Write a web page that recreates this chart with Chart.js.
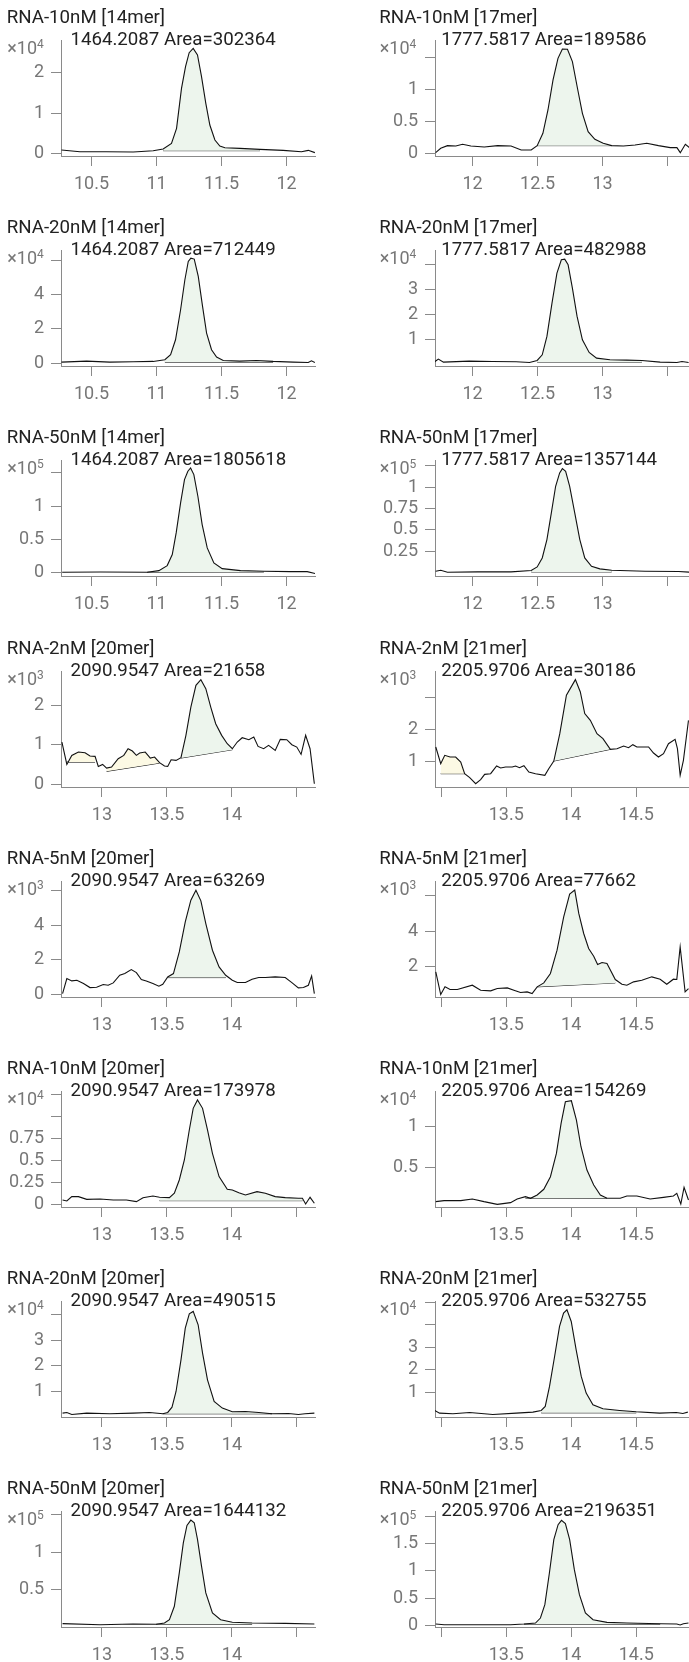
<!DOCTYPE html>
<html>
<head>
<meta charset="utf-8">
<title>RNA XIC panels</title>
<script src="https://cdn.jsdelivr.net/npm/chart.js@4.4.1/dist/chart.umd.min.js"></script>
<style>
  html, body { margin: 0; padding: 0; background: #fff; overflow: hidden; }
  #sheet { position: relative; width: 689px; height: 1662px; overflow: hidden; font-family: Roboto, sans-serif; }
  .panel { position: absolute; width: 374px; height: 210px; }
  .panel canvas { position: absolute; left: 0; top: 0; }
  .ttl { position: absolute; font-size: 18.7px; line-height: 20px; color: #222; white-space: nowrap; }
  .exp { position: absolute; font-size: 18px; line-height: 18px; color: #777; white-space: nowrap; }
  .exp sup { font-size: 12px; vertical-align: 6px; line-height: 0; }
</style>
</head>
<body>
<div id="sheet"></div>
<script>
// ---- panel labels (reading order: left column, right column, row by row)
const titles = [
  'RNA-10nM [14mer]', 'RNA-10nM [17mer]', 'RNA-20nM [14mer]', 'RNA-20nM [17mer]',
  'RNA-50nM [14mer]', 'RNA-50nM [17mer]', 'RNA-2nM [20mer]', 'RNA-2nM [21mer]',
  'RNA-5nM [20mer]', 'RNA-5nM [21mer]', 'RNA-10nM [20mer]', 'RNA-10nM [21mer]',
  'RNA-20nM [20mer]', 'RNA-20nM [21mer]', 'RNA-50nM [20mer]', 'RNA-50nM [21mer]'
];
const masses = ['1464.2087', '1777.5817', '1464.2087', '1777.5817', '1464.2087', '1777.5817',
  '2090.9547', '2205.9706', '2090.9547', '2205.9706', '2090.9547', '2205.9706',
  '2090.9547', '2205.9706', '2090.9547', '2205.9706'];
const areas = [302364, 189586, 712449, 482988, 1805618, 1357144, 21658, 30186,
  63269, 77662, 173978, 154269, 490515, 532755, 1644132, 2196351];
const exponents = [4, 4, 4, 4, 5, 5, 3, 3, 3, 3, 4, 4, 4, 4, 5, 5];
const panelMer = [14, 17, 14, 17, 14, 17, 20, 21, 20, 21, 20, 21, 20, 21, 20, 21];

// ---- retention time axes (min)
const rtRange = { 14: [10.265, 12.219], 17: [11.711, 13.665], 20: [12.685, 14.639], 21: [12.952, 14.906] };
const rtTicks = { 14: [10.5, 11, 11.5, 12], 17: [12, 12.5, 13, 13.5], 20: [13, 13.5, 14, 14.5], 21: [13, 13.5, 14, 14.5] };
const rtUnlabelled = { 14: [], 17: [13.5], 20: [14.5], 21: [13] };

// ---- intensity axes (in units of 10^exponent)
const yMins = [-0.066, -0.042, -0.17, -0.075, -0.046, -0.039, -0.066, 0.18, -0.14, 0.31, -0.023, 0.012, -0.008, -0.105, 0, -0.03];
const yMaxs = [2.81, 1.77, 6.62, 4.565, 1.694, 1.316, 2.87, 3.84, 6.55, 6.81, 1.295, 1.44, 4.54, 5.05, 1.55, 2.1];
const yTickValues = [
  [0, 1, 2], [0, 0.5, 1, 1.5], [0, 2, 4, 6], [1, 2, 3, 4], [0, 0.5, 1, 1.5], [0.25, 0.5, 0.75, 1, 1.25],
  [0, 1, 2], [1, 2, 3], [0, 2, 4, 6], [2, 4, 6], [0, 0.25, 0.5, 0.75, 1, 1.25], [0.5, 1],
  [1, 2, 3, 4], [1, 2, 3, 4, 5], [0.5, 1, 1.5], [0, 0.5, 1, 1.5, 2]
];
const yTickUnlabelled = [[], [1.5], [6], [4], [1.5], [1.25], [], [3], [6], [6], [1, 1.25], [], [4], [4, 5], [1.5], [2]];

// ---- traces: retention time / intensity
const mer14_10nM_t = [10.269, 10.410, 10.615, 10.821, 10.974, 11.051, 11.115, 11.154, 11.192, 11.223, 11.251, 11.282, 11.315, 11.346, 11.379, 11.410, 11.449, 11.487, 11.526, 11.641, 11.795, 11.974, 12.115, 12.167, 12.218];
const mer14_10nM_i = [0.083, 0.041, 0.041, 0.033, 0.066, 0.107, 0.248, 0.620, 1.612, 2.149, 2.496, 2.603, 2.438, 1.901, 1.240, 0.702, 0.331, 0.182, 0.140, 0.124, 0.099, 0.074, 0.041, 0.074, 0.017];
const mer17_10nM_t = [11.716, 11.755, 11.807, 11.871, 11.923, 11.987, 12.090, 12.193, 12.296, 12.374, 12.451, 12.497, 12.541, 12.580, 12.619, 12.657, 12.691, 12.730, 12.768, 12.807, 12.845, 12.889, 12.941, 13.005, 13.070, 13.160, 13.250, 13.340, 13.430, 13.521, 13.572, 13.598, 13.637, 13.675];
const mer17_10nM_i = [0.010, 0.078, 0.120, 0.115, 0.141, 0.115, 0.099, 0.120, 0.115, 0.052, 0.052, 0.120, 0.313, 0.677, 1.146, 1.484, 1.630, 1.625, 1.432, 1.016, 0.625, 0.339, 0.219, 0.156, 0.120, 0.115, 0.130, 0.156, 0.120, 0.089, 0.089, 0.010, 0.141, 0.078];
const mer14_20nM_t = [10.269, 10.462, 10.641, 10.821, 10.974, 11.064, 11.108, 11.146, 11.185, 11.218, 11.244, 11.264, 11.290, 11.321, 11.354, 11.385, 11.423, 11.462, 11.513, 11.641, 11.769, 11.897, 12.051, 12.167, 12.192, 12.218];
const mer14_20nM_i = [0.059, 0.117, 0.059, 0.078, 0.098, 0.195, 0.488, 1.366, 3.122, 4.878, 5.951, 6.146, 6.088, 5.073, 3.317, 1.756, 0.780, 0.351, 0.156, 0.117, 0.156, 0.098, 0.059, 0.039, 0.137, 0.039];
const mer17_20nM_t = [11.704, 11.737, 11.776, 11.974, 12.155, 12.335, 12.438, 12.497, 12.536, 12.572, 12.611, 12.649, 12.683, 12.709, 12.735, 12.768, 12.804, 12.845, 12.897, 12.954, 13.057, 13.186, 13.302, 13.443, 13.572, 13.611, 13.662];
const mer17_20nM_i = [0.080, 0.200, 0.080, 0.120, 0.107, 0.093, 0.067, 0.147, 0.373, 1.107, 2.440, 3.640, 4.173, 4.200, 3.973, 3.040, 1.907, 0.973, 0.467, 0.240, 0.173, 0.160, 0.147, 0.080, 0.067, 0.107, 0.067];
const mer14_50nM_t = [10.274, 10.569, 10.928, 11.018, 11.082, 11.121, 11.151, 11.185, 11.215, 11.241, 11.262, 11.287, 11.318, 11.351, 11.390, 11.441, 11.505, 11.646, 11.826, 12.031, 12.159, 12.223];
const mer14_50nM_i = [0.010, 0.015, 0.010, 0.035, 0.110, 0.275, 0.600, 1.050, 1.400, 1.525, 1.575, 1.475, 1.150, 0.725, 0.375, 0.150, 0.065, 0.035, 0.025, 0.020, 0.020, -0.010];
const mer17_50nM_t = [11.716, 11.755, 11.807, 12.039, 12.296, 12.451, 12.497, 12.536, 12.572, 12.606, 12.639, 12.670, 12.691, 12.716, 12.747, 12.786, 12.825, 12.863, 12.915, 12.979, 13.070, 13.327, 13.585, 13.675];
const mer17_50nM_i = [0.017, 0.028, 0.005, 0.009, 0.009, 0.025, 0.067, 0.172, 0.386, 0.698, 1.009, 1.165, 1.215, 1.184, 1.009, 0.698, 0.386, 0.172, 0.075, 0.044, 0.028, 0.017, 0.013, 0.005];
const mer20_2nM_t = [12.692, 12.730, 12.768, 12.819, 12.870, 12.908, 12.947, 12.972, 13.005, 13.036, 13.074, 13.125, 13.168, 13.201, 13.234, 13.265, 13.290, 13.333, 13.372, 13.405, 13.443, 13.481, 13.506, 13.532, 13.570, 13.608, 13.646, 13.684, 13.723, 13.761, 13.799, 13.837, 13.875, 13.921, 13.964, 14.003, 14.041, 14.079, 14.130, 14.168, 14.201, 14.244, 14.282, 14.333, 14.372, 14.422, 14.461, 14.499, 14.532, 14.567, 14.601, 14.634];
const mer20_2nM_i = [1.072, 0.506, 0.734, 0.819, 0.802, 0.717, 0.709, 0.456, 0.506, 0.414, 0.439, 0.650, 0.734, 0.903, 0.844, 0.734, 0.793, 0.819, 0.667, 0.692, 0.549, 0.464, 0.456, 0.624, 0.608, 0.675, 1.241, 1.958, 2.506, 2.650, 2.422, 1.958, 1.536, 1.241, 1.030, 0.903, 1.072, 1.181, 1.131, 1.198, 0.962, 0.903, 0.987, 0.861, 1.139, 1.131, 1.004, 0.945, 0.759, 1.241, 0.903, 0.017];
const mer21_2nM_t = [12.958, 12.996, 13.027, 13.068, 13.111, 13.150, 13.180, 13.219, 13.265, 13.303, 13.334, 13.380, 13.426, 13.457, 13.495, 13.546, 13.572, 13.602, 13.636, 13.674, 13.725, 13.797, 13.827, 13.866, 13.912, 13.963, 14.032, 14.070, 14.104, 14.147, 14.198, 14.244, 14.301, 14.352, 14.403, 14.441, 14.474, 14.505, 14.556, 14.595, 14.633, 14.671, 14.710, 14.748, 14.799, 14.817, 14.838, 14.863, 14.902];
const mer21_2nM_i = [1.442, 0.916, 1.179, 1.126, 1.126, 0.968, 0.600, 0.474, 0.284, 0.411, 0.579, 0.600, 0.842, 0.779, 0.811, 0.811, 0.842, 0.789, 0.853, 0.653, 0.600, 0.547, 0.758, 1.000, 1.863, 3.074, 3.568, 3.179, 2.495, 2.284, 1.863, 1.705, 1.368, 1.389, 1.474, 1.421, 1.516, 1.442, 1.442, 1.442, 1.253, 1.126, 1.232, 1.547, 1.684, 1.389, 0.547, 1.021, 2.284];
const mer20_5nM_t = [12.697, 12.730, 12.768, 12.807, 12.858, 12.908, 12.959, 13.010, 13.048, 13.087, 13.137, 13.176, 13.226, 13.265, 13.303, 13.341, 13.392, 13.438, 13.468, 13.506, 13.550, 13.595, 13.641, 13.684, 13.723, 13.761, 13.799, 13.850, 13.901, 13.952, 14.003, 14.041, 14.104, 14.155, 14.206, 14.257, 14.333, 14.410, 14.461, 14.511, 14.550, 14.588, 14.613, 14.634];
const mer20_5nM_i = [0.058, 0.923, 0.788, 0.827, 0.635, 0.404, 0.423, 0.577, 0.538, 0.673, 1.115, 1.212, 1.442, 1.269, 0.865, 0.788, 0.635, 0.481, 0.596, 1.019, 1.212, 2.462, 4.192, 5.442, 6.019, 5.404, 4.096, 2.558, 1.596, 1.115, 0.827, 0.692, 0.692, 0.885, 0.981, 0.981, 1.019, 0.981, 0.692, 0.385, 0.404, 0.538, 1.077, 0.058];
const mer21_5nM_t = [12.958, 12.996, 13.029, 13.068, 13.124, 13.239, 13.303, 13.380, 13.431, 13.508, 13.559, 13.610, 13.661, 13.699, 13.738, 13.789, 13.840, 13.891, 13.942, 13.988, 14.027, 14.058, 14.096, 14.134, 14.173, 14.203, 14.237, 14.275, 14.339, 14.390, 14.428, 14.480, 14.543, 14.620, 14.684, 14.735, 14.786, 14.812, 14.838, 14.876, 14.902];
const mer21_5nM_i = [1.720, 0.449, 0.879, 0.729, 0.729, 0.972, 0.692, 0.654, 0.785, 0.822, 0.692, 0.561, 0.598, 0.505, 0.879, 1.103, 1.626, 2.935, 4.804, 6.075, 6.299, 4.991, 3.869, 3.028, 2.598, 2.131, 2.243, 2.187, 1.290, 1.028, 0.972, 1.159, 1.252, 1.439, 1.308, 1.028, 1.308, 1.290, 3.121, 0.598, 0.785];
const mer20_10nM_t = [12.697, 12.730, 12.768, 12.819, 12.883, 12.985, 13.087, 13.188, 13.265, 13.316, 13.392, 13.443, 13.519, 13.557, 13.595, 13.634, 13.672, 13.702, 13.735, 13.774, 13.812, 13.850, 13.901, 13.964, 14.003, 14.053, 14.104, 14.193, 14.257, 14.333, 14.410, 14.511, 14.542, 14.567, 14.601, 14.634];
const mer20_10nM_i = [0.057, 0.045, 0.095, 0.095, 0.064, 0.068, 0.057, 0.057, 0.038, 0.083, 0.102, 0.087, 0.083, 0.133, 0.284, 0.511, 0.852, 1.098, 1.193, 1.098, 0.852, 0.587, 0.322, 0.178, 0.170, 0.140, 0.114, 0.152, 0.133, 0.095, 0.083, 0.076, 0.076, 0.011, 0.087, 0.019];
const mer21_10nM_t = [12.958, 13.022, 13.150, 13.239, 13.329, 13.431, 13.533, 13.584, 13.648, 13.687, 13.738, 13.789, 13.840, 13.886, 13.922, 13.955, 14.001, 14.040, 14.075, 14.121, 14.173, 14.224, 14.275, 14.377, 14.428, 14.505, 14.607, 14.710, 14.786, 14.812, 14.843, 14.868, 14.902];
const mer21_10nM_i = [0.078, 0.090, 0.090, 0.111, 0.078, 0.045, 0.066, 0.111, 0.139, 0.119, 0.160, 0.230, 0.385, 0.672, 1.041, 1.307, 1.320, 1.082, 0.754, 0.467, 0.283, 0.160, 0.119, 0.119, 0.148, 0.148, 0.111, 0.131, 0.148, 0.180, 0.049, 0.254, 0.098];
const mer20_20nM_t = [12.697, 12.730, 12.768, 12.883, 13.061, 13.239, 13.366, 13.468, 13.506, 13.539, 13.570, 13.608, 13.641, 13.672, 13.702, 13.740, 13.774, 13.812, 13.863, 13.926, 14.003, 14.104, 14.206, 14.308, 14.435, 14.511, 14.562, 14.634];
const mer20_20nM_i = [0.144, 0.170, 0.092, 0.144, 0.118, 0.144, 0.170, 0.118, 0.170, 0.379, 0.993, 2.235, 3.477, 4.039, 4.131, 3.608, 2.497, 1.451, 0.601, 0.340, 0.196, 0.209, 0.170, 0.118, 0.131, 0.092, 0.118, 0.144];
const mer21_20nM_t = [12.949, 12.987, 13.090, 13.218, 13.397, 13.577, 13.705, 13.769, 13.800, 13.833, 13.872, 13.910, 13.941, 13.967, 14.000, 14.038, 14.077, 14.115, 14.167, 14.244, 14.372, 14.500, 14.679, 14.808, 14.859, 14.897];
const mer21_20nM_i = [0.185, 0.067, 0.037, 0.096, 0.007, 0.067, 0.111, 0.185, 0.363, 1.252, 2.585, 3.919, 4.511, 4.659, 4.141, 2.881, 1.696, 0.956, 0.437, 0.259, 0.185, 0.126, 0.067, 0.096, 0.052, 0.111];
const mer20_50nM_t = [12.697, 12.985, 13.239, 13.417, 13.481, 13.519, 13.557, 13.595, 13.626, 13.654, 13.684, 13.710, 13.735, 13.766, 13.799, 13.850, 13.913, 14.003, 14.155, 14.410, 14.634];
const mer20_50nM_i = [0.045, 0.031, 0.040, 0.036, 0.054, 0.098, 0.277, 0.723, 1.125, 1.357, 1.429, 1.393, 1.170, 0.813, 0.455, 0.188, 0.098, 0.063, 0.054, 0.049, 0.040];
const mer21_50nM_t = [12.958, 13.022, 13.278, 13.533, 13.636, 13.725, 13.763, 13.797, 13.832, 13.866, 13.899, 13.925, 13.955, 13.988, 14.024, 14.063, 14.109, 14.168, 14.275, 14.428, 14.684, 14.812, 14.838, 14.863, 14.902];
const mer21_50nM_i = [0.024, 0.012, 0.012, 0.012, 0.024, 0.043, 0.135, 0.380, 0.961, 1.574, 1.849, 1.929, 1.868, 1.574, 1.023, 0.563, 0.227, 0.104, 0.055, 0.043, 0.031, 0.024, 0.006, 0.031, 0.043];

const traceTimes = [mer14_10nM_t, mer17_10nM_t, mer14_20nM_t, mer17_20nM_t, mer14_50nM_t, mer17_50nM_t,
  mer20_2nM_t, mer21_2nM_t, mer20_5nM_t, mer21_5nM_t, mer20_10nM_t, mer21_10nM_t,
  mer20_20nM_t, mer21_20nM_t, mer20_50nM_t, mer21_50nM_t];
const traceValues = [mer14_10nM_i, mer17_10nM_i, mer14_20nM_i, mer17_20nM_i, mer14_50nM_i, mer17_50nM_i,
  mer20_2nM_i, mer21_2nM_i, mer20_5nM_i, mer21_5nM_i, mer20_10nM_i, mer21_10nM_i,
  mer20_20nM_i, mer21_20nM_i, mer20_50nM_i, mer21_50nM_i];

// integrated peak: [start rt, baseline at start, end rt, baseline at end]
const peakWindows = [
  [11.051, 0.066, 11.795, 0.066], [12.497, 0.120, 13.070, 0.120],
  [11.064, 0.059, 11.897, 0.059], [12.497, 0.080, 13.302, 0.080],
  [10.928, 0.010, 11.826, 0.015], [12.451, 0.009, 13.070, 0.009],
  [13.608, 0.667, 14.003, 0.878], [13.866, 1.000, 14.301, 1.368],
  [13.506, 0.980, 13.952, 0.980], [13.738, 0.879, 14.339, 1.100],
  [13.443, 0.049, 14.542, 0.049], [13.648, 0.120, 14.275, 0.119],
  [13.468, 0.118, 14.308, 0.118], [13.769, 0.080, 14.500, 0.080],
  [13.417, 0.036, 14.155, 0.036], [13.636, 0.020, 14.684, 0.020]
];
// other (unassigned) integrated regions, same layout
const minorWindows = [[], [], [], [], [], [],
  [[12.730, 0.565, 12.947, 0.565], [13.036, 0.330, 13.443, 0.540]],
  [[12.996, 0.600, 13.180, 0.600]],
  [], [], [], [], [], [], [], []];

// ---- layout
const PANEL_W = 374, PANEL_H = 210, ROW_PITCH = 210.2;
const COL_X = [0, 374];
const TITLE_X = [6.7, 5.2], SUBTITLE_X = [70.4, 67.2];
const PLOT_LEFT = 61, PLOT_RIGHT = 315, PLOT_TOP = 40, PLOT_BOTTOM = 156;
const AXIS_GREY = '#8a8a8a';
const PEAK_FILL = '#edf5ed';
const MINOR_FILL = '#fcf9e4';

Chart.defaults.font.family = 'Roboto, sans-serif';
Chart.defaults.font.size = 18;
Chart.defaults.color = '#777';

const sheet = document.getElementById('sheet');

function addText(box, cls, left, top, html) {
  const el = document.createElement('div');
  el.className = cls;
  el.style.left = left + 'px';
  el.style.top = top + 'px';
  el.innerHTML = html;
  box.appendChild(el);
}

function buildPanel(i) {
  const row = Math.floor(i / 2), col = i % 2;
  const box = document.createElement('div');
  box.className = 'panel';
  box.style.left = COL_X[col] + 'px';
  box.style.top = Math.round(row * ROW_PITCH) + 'px';
  const canvas = document.createElement('canvas');
  canvas.width = PANEL_W;
  canvas.height = PANEL_H;
  box.appendChild(canvas);
  sheet.appendChild(box);

  addText(box, 'ttl', TITLE_X[col], 6.9, titles[i]);
  addText(box, 'ttl', SUBTITLE_X[col], 29.3, masses[i] + ' Area=' + areas[i]);
  addText(box, 'exp', TITLE_X[col] + 0.5, 39, '×10<sup>' + exponents[i] + '</sup>');

  const mer = panelMer[i];
  const trace = traceTimes[i].map((x, k) => ({ x: x, y: traceValues[i][k] }));
  const datasets = [{
    data: trace, borderColor: '#111', borderWidth: 1.1, pointRadius: 0, fill: false
  }];
  const regions = [[peakWindows[i], PEAK_FILL]].concat(minorWindows[i].map(w => [w, MINOR_FILL]));
  regions.forEach(([w, color]) => {
    const seg = trace.filter(p => p.x >= w[0] - 1e-6 && p.x <= w[2] + 1e-6);
    datasets.push({
      data: seg, borderColor: 'rgba(0,0,0,0)', borderWidth: 1, pointRadius: 0,
      fill: '+1', backgroundColor: color
    });
    datasets.push({
      data: [{ x: w[0], y: w[1] }, { x: w[2], y: w[3] }],
      borderColor: '#111', borderWidth: 1, pointRadius: 0, fill: false
    });
  });

  const xHidden = rtUnlabelled[mer], yHidden = yTickUnlabelled[i];
  new Chart(canvas, {
    type: 'line',
    data: { datasets: datasets },
    options: {
      responsive: false,
      animation: false,
      events: [],
      layout: { padding: { top: PLOT_TOP, right: PANEL_W - PLOT_RIGHT, left: 0, bottom: 0 } },
      plugins: { legend: { display: false }, tooltip: { enabled: false } },
      scales: {
        x: {
          type: 'linear',
          min: rtRange[mer][0],
          max: rtRange[mer][1],
          afterBuildTicks: s => { s.ticks = rtTicks[mer].map(v => ({ value: v })); },
          afterFit: s => { s.height = PANEL_H - PLOT_BOTTOM; },
          grid: { drawOnChartArea: false, drawTicks: true, tickLength: 10, color: AXIS_GREY },
          border: { color: AXIS_GREY },
          ticks: {
            autoSkip: false, maxRotation: 0, padding: 8,
            callback: v => xHidden.includes(v) ? '' : String(v)
          }
        },
        y: {
          type: 'linear',
          min: yMins[i],
          max: yMaxs[i],
          afterBuildTicks: s => { s.ticks = yTickValues[i].map(v => ({ value: v })); },
          afterFit: s => { s.width = PLOT_LEFT; },
          grid: { drawOnChartArea: false, drawTicks: true, tickLength: 10, color: AXIS_GREY },
          border: { color: AXIS_GREY },
          ticks: {
            autoSkip: false, padding: 7,
            callback: v => yHidden.includes(v) ? '' : String(v)
          }
        }
      }
    }
  });
}

for (let i = 0; i < titles.length; i++) buildPanel(i);
</script>
</body>
</html>
